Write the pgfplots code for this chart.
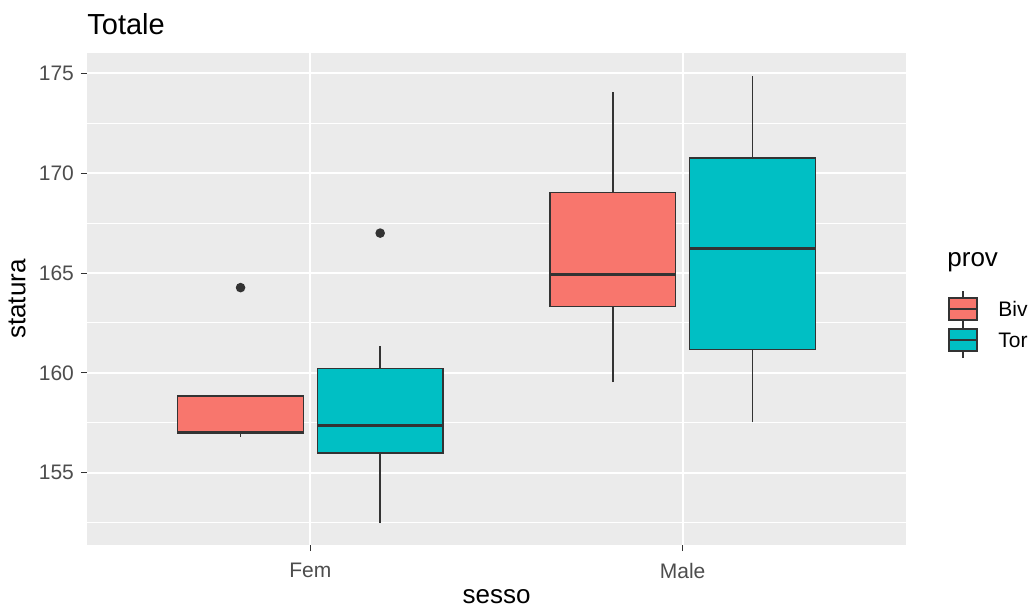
\documentclass[border=0pt]{standalone}
\usepackage{fontspec}
\setmainfont{Liberation Sans}
\usepackage{pgfplots}
\pgfplotsset{compat=1.18}
\usepgfplotslibrary{statistics}
\definecolor{biv}{HTML}{F8766D}
\definecolor{tor}{HTML}{00BFC4}
\definecolor{panel}{HTML}{EBEBEB}
\definecolor{g30}{HTML}{4D4D4D}
\definecolor{g20}{HTML}{333333}
\begin{document}
\begin{tikzpicture}
\useasboundingbox (0,0) rectangle (516pt,306pt);
\begin{axis}[
  at={(43.5pt,33.5pt)}, anchor=south west,
  width=409.5pt, height=246pt, scale only axis,
  xmin=0.4, xmax=2.6, ymin=151.38, ymax=176.02,
  xtick={1,2}, xticklabels={Fem,Male},
  ytick={155,160,165,170,175},
  minor ytick={152.5,157.5,162.5,167.5,172.5},
  grid=both,
  major grid style={white, line width=1pt},
  minor grid style={white, line width=0.5pt},
  axis background/.style={fill=panel},
  axis line style={draw=none},
  tick align=outside,
  major tick length=3pt,
  minor tick length=0pt,
  xtick pos=bottom, ytick pos=left,
  tick style={g20, line width=0.5pt},
  ticklabel style={font=\fontsize{10.5}{12}\selectfont, text=g30},
  xticklabel style={yshift=-2.5pt},
  /pgf/number format/assume math mode=true,
  xlabel={sesso}, ylabel={statura},
  label style={font=\fontsize{13}{15}\selectfont},
  xlabel style={at={(axis description cs:0.5,-0.1057)}, anchor=center},
  ylabel style={at={(axis description cs:-0.0855,0.5)}, anchor=center, rotate=0},
  title={Totale},
  title style={font=\fontsize{14.5}{17}\selectfont, at={(axis description cs:0,1.0467)}, anchor=west, inner sep=0pt, yshift=-3pt},
  boxplot/draw direction=y,
  boxplot/every median/.style={line width=1.4pt},
  clip=false,
]
% Fem - Biv
\addplot[boxplot prepared={draw position=0.8125, lower whisker=156.8, lower quartile=157.0, median=157.0, upper quartile=158.85, upper whisker=158.85, box extend=0.3375, whisker extend=0},
  fill=biv, draw=g20, line width=0.75pt, mark=*, mark size=2pt, mark options={fill=g20, draw=g20}]
  coordinates {(0,164.27)};
% Fem - Tor
\addplot[boxplot prepared={draw position=1.1875, lower whisker=152.48, lower quartile=155.98, median=157.35, upper quartile=160.23, upper whisker=161.35, box extend=0.3375, whisker extend=0},
  fill=tor, draw=g20, line width=0.75pt, mark=*, mark size=2pt, mark options={fill=g20, draw=g20}]
  coordinates {(0,167.0)};
% Male - Biv
\addplot[boxplot prepared={draw position=1.8125, lower whisker=159.52, lower quartile=163.32, median=164.93, upper quartile=169.03, upper whisker=174.07, box extend=0.3375, whisker extend=0},
  fill=biv, draw=g20, line width=0.75pt]
  coordinates {};
% Male - Tor
\addplot[boxplot prepared={draw position=2.1875, lower whisker=157.52, lower quartile=161.17, median=166.22, upper quartile=170.77, upper whisker=174.85, box extend=0.3375, whisker extend=0},
  fill=tor, draw=g20, line width=0.75pt]
  coordinates {};
\end{axis}
% legend
\node[anchor=west, font=\fontsize{13}{15}\selectfont, inner sep=0pt] at (473.5pt,175pt) {prov};
\draw[g20, line width=0.6pt] (481.5pt,142.5pt) -- (481.5pt,160.5pt);
\draw[g20, line width=0.7pt, fill=biv] (474.5pt,146pt) rectangle (488.5pt,157pt);
\draw[g20, line width=0.7pt] (474.5pt,151.5pt) -- (488.5pt,151.5pt);
\draw[g20, line width=0.6pt] (481.5pt,127pt) -- (481.5pt,145pt);
\draw[g20, line width=0.7pt, fill=tor] (474.5pt,130.5pt) rectangle (488.5pt,141.5pt);
\draw[g20, line width=0.7pt] (474.5pt,136pt) -- (488.5pt,136pt);
\node[anchor=west, font=\fontsize{10.5}{12}\selectfont, inner sep=0pt] at (499pt,151.5pt) {Biv};
\node[anchor=west, font=\fontsize{10.5}{12}\selectfont, inner sep=0pt] at (499pt,136pt) {Tor};
\end{tikzpicture}
\end{document}
